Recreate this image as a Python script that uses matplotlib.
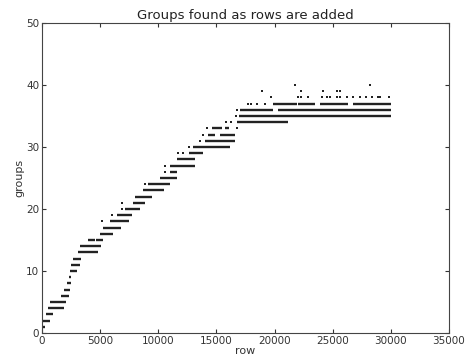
import matplotlib
matplotlib.use("Agg")
import matplotlib.pyplot as plt

# Horizontal runs of points: group level, first row, last row
run_groups = [1, 2, 3, 4, 5, 6, 7, 8, 9, 10, 11, 12, 13, 14, 15, 15, 16, 17, 18, 19,
              20, 21, 22, 23, 24, 25, 26, 27, 28, 29, 30, 31, 32, 32, 33, 33, 34, 35,
              36, 36, 37, 37, 37, 37]
run_start = [0, 100, 300, 500, 700, 1650, 1900, 2150, 2330, 2400, 2500, 2700, 3100, 3270,
             3950, 4650, 5000, 5250, 5850, 6450, 7150, 7800, 8000, 8700, 9100, 10150,
             11000, 11000, 11600, 12650, 13000, 14000, 14300, 15300, 14600, 15700, 16750,
             16900, 17000, 20300, 19900, 22000, 23900, 26750]
run_end = [250, 700, 950, 1900, 2050, 2300, 2400, 2500, 2500, 3000, 3250, 3350, 4800, 5070,
           4550, 5250, 6100, 6800, 7450, 7750, 8400, 8850, 9500, 10500, 11000, 11600,
           11600, 13150, 13150, 13850, 16200, 16600, 14900, 16600, 15450, 16100, 21150,
           30000, 19900, 30000, 21900, 23500, 26300, 30000]

# Isolated points
dot_rows = [5200, 6000, 6850, 6900, 8850, 10600, 10600, 11700, 12150, 12650, 13600, 13850,
            14150, 16750, 15850, 16250, 16650, 16750, 17700, 18000, 18450, 19150,
            19700, 22000, 22300, 22900, 24050, 24500, 24750, 25350, 25600, 26200, 26750,
            27350, 27900, 28350, 28900, 29050, 29800,
            18950, 22300, 24150, 25350, 25600, 21750, 28200]
dot_groups = [18, 19, 20, 21, 24, 26, 27, 29, 29, 30, 31, 32,
              33, 33, 34, 34, 35, 36, 37, 37, 37, 37,
              38, 38, 38, 38, 38, 38, 38, 38, 38, 38, 38,
              38, 38, 38, 38, 38, 38,
              39, 39, 39, 39, 39, 40, 40]

x_ticks = [0, 5000, 10000, 15000, 20000, 25000, 30000, 35000]
y_ticks = [0, 10, 20, 30, 40, 50]

fig = plt.figure(figsize=(4.69, 3.58), dpi=100)
ax = fig.add_axes([0.0896, 0.0698, 0.8678, 0.8660])

ax.hlines(run_groups, run_start, run_end, colors="#222222", linewidth=1.7)
ax.scatter(dot_rows, dot_groups, s=2.5, c="#222222", marker="s", linewidths=0)

ax.set_xlim(0, 35000)
ax.set_ylim(0, 50)
ax.set_xticks(x_ticks)
ax.set_yticks(y_ticks)
ax.tick_params(direction="in", top=True, right=True, length=3, labelsize=7.5,
               colors="#333333", pad=2)
for s in ax.spines.values():
    s.set_color("#444444")
    s.set_linewidth(0.8)
ax.set_title("Groups found as rows are added", fontsize=9.5, color="#222222", pad=3)
ax.set_xlabel("row", fontsize=8, color="#333333", labelpad=0)
ax.set_ylabel("groups", fontsize=8, color="#333333", labelpad=1)

fig.savefig("out.png", dpi=100)
